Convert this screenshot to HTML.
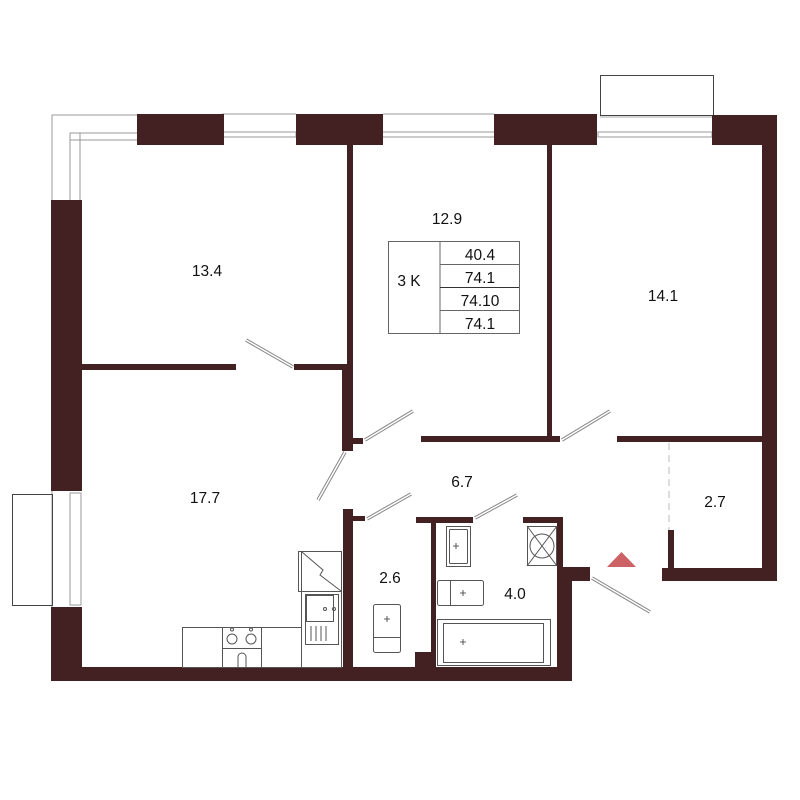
<!DOCTYPE html>
<html><head><meta charset="utf-8"><style>
html,body{margin:0;padding:0;background:#fff;}
svg{display:block;}
text{font-family:"Liberation Sans",sans-serif;font-size:15.5px;fill:#111;}
</style></head><body>
<svg width="800" height="800" viewBox="0 0 800 800" xmlns="http://www.w3.org/2000/svg">
<g fill="none" stroke="#999" stroke-width="1">
  <polyline points="52,200 52,115 137,115"/>
  <rect x="70" y="133" width="10" height="68"/>
  <rect x="70" y="133" width="68" height="7"/>
  <rect x="222" y="132" width="74" height="5"/>
  <line x1="222" y1="114" x2="296" y2="114"/>
  <rect x="381" y="132" width="114" height="5"/>
  <line x1="383" y1="114" x2="494" y2="114"/>
  <rect x="598" y="132" width="114" height="5"/>
  <rect x="70" y="493" width="11" height="112"/>
  <line x1="52" y1="491" x2="52" y2="607"/>
  <line x1="669" y1="443" x2="669" y2="530" stroke-dasharray="7,5" stroke="#bbb"/>
</g>
<rect x="600.5" y="75.5" width="113" height="40" fill="none" stroke="#444" stroke-width="1"/>
<line x1="600" y1="117" x2="713" y2="117" stroke="#aaa"/>
<rect x="12.5" y="494.5" width="40" height="111" fill="none" stroke="#444" stroke-width="1"/>

<g fill="#432022">
  <rect x="137" y="114" width="87" height="31"/>
  <rect x="296" y="114" width="87" height="31"/>
  <rect x="494" y="114" width="103" height="31"/>
  <rect x="712" y="115" width="65" height="30"/>
  <rect x="762" y="115" width="15" height="466"/>
  <rect x="51" y="200" width="31" height="291"/>
  <rect x="51" y="607" width="31" height="74"/>
  <rect x="51" y="667" width="521" height="14"/>
  <rect x="415" y="652" width="17" height="16"/>
  <rect x="81" y="364" width="155" height="6"/>
  <rect x="294" y="364" width="53" height="6"/>
  <rect x="347" y="145" width="6" height="220"/>
  <rect x="342" y="364" width="11" height="87"/>
  <rect x="353" y="438" width="10" height="6"/>
  <rect x="343" y="509" width="10" height="160"/>
  <rect x="353" y="516" width="12" height="5"/>
  <rect x="547" y="145" width="5" height="296"/>
  <rect x="421" y="436" width="139" height="6"/>
  <rect x="617" y="436" width="146" height="6"/>
  <rect x="416" y="517" width="57" height="6"/>
  <rect x="523" y="517" width="40" height="6"/>
  <rect x="431" y="517" width="5" height="152"/>
  <rect x="557" y="517" width="6" height="52"/>
  <rect x="557" y="567" width="33" height="14"/>
  <rect x="557" y="567" width="15" height="114"/>
  <rect x="668" y="530" width="6" height="40"/>
  <rect x="662" y="568" width="115" height="13"/>
</g>

<g stroke="#888" stroke-width="3.5" stroke-linecap="butt">
  <line x1="246" y1="340" x2="293" y2="367"/>
  <line x1="365" y1="440" x2="413" y2="411"/>
  <line x1="345" y1="452" x2="318" y2="500"/>
  <line x1="367" y1="519" x2="411" y2="494"/>
  <line x1="562" y1="440" x2="610" y2="411"/>
  <line x1="475" y1="518" x2="517" y2="495"/>
  <line x1="592" y1="578" x2="650" y2="612"/>
</g>
<g stroke="#fff" stroke-width="1.5">
  <line x1="246" y1="340" x2="293" y2="367"/>
  <line x1="365" y1="440" x2="413" y2="411"/>
  <line x1="345" y1="452" x2="318" y2="500"/>
  <line x1="367" y1="519" x2="411" y2="494"/>
  <line x1="562" y1="440" x2="610" y2="411"/>
  <line x1="475" y1="518" x2="517" y2="495"/>
  <line x1="592" y1="578" x2="650" y2="612"/>
</g>

<g fill="none" stroke="#666" stroke-width="1">
  <rect x="388.5" y="241.5" width="131" height="92"/>
  <line x1="440" y1="241" x2="440" y2="333"/>
  <line x1="440" y1="264.5" x2="519" y2="264.5"/>
  <line x1="440" y1="287.5" x2="519" y2="287.5" stroke="#333"/>
  <line x1="440" y1="310.5" x2="519" y2="310.5"/>
</g>
<text x="480" y="260" text-anchor="middle">40.4</text>
<text x="480" y="283" text-anchor="middle">74.1</text>
<text x="480" y="306" text-anchor="middle">74.10</text>
<text x="480" y="329" text-anchor="middle">74.1</text>
<text x="409" y="286" text-anchor="middle">3 K</text>

<text x="207" y="276" text-anchor="middle">13.4</text>
<text x="447" y="224" text-anchor="middle">12.9</text>
<text x="663" y="301" text-anchor="middle">14.1</text>
<text x="205" y="503" text-anchor="middle">17.7</text>
<text x="462" y="487" text-anchor="middle">6.7</text>
<text x="715" y="507" text-anchor="middle">2.7</text>
<text x="390" y="583" text-anchor="middle">2.6</text>
<text x="515" y="599" text-anchor="middle">4.0</text>

<polygon points="607,567 636,567 621.5,552" fill="#cd6266"/>

<g fill="none" stroke="#555" stroke-width="1">
  <rect x="182.5" y="627.5" width="119" height="40"/>
  <rect x="222.5" y="627.5" width="39" height="40"/>
  <circle cx="232" cy="639" r="5"/><circle cx="251" cy="639" r="5"/>
  <circle cx="232" cy="629.5" r="1.5"/><circle cx="251" cy="629.5" r="1.5"/>
  <line x1="222" y1="648.5" x2="262" y2="648.5"/>
  <path d="M238,667 V657 a4,4 0 0 1 8,0 V667"/>
  <rect x="301.5" y="591.5" width="40" height="76"/>
  <rect x="298.5" y="551.5" width="43" height="40"/>
  <line x1="301.5" y1="551" x2="301.5" y2="591"/>
  <polyline points="302,552 323,570 320,575 341,591"/>
  <rect x="305.5" y="594.5" width="33" height="50"/>
  <rect x="306.5" y="595.5" width="27" height="26"/>
  <circle cx="325" cy="609" r="1.5"/><circle cx="334" cy="609" r="1.5"/>
  <line x1="311" y1="626" x2="311" y2="641"/><line x1="316" y1="626" x2="316" y2="641"/>
  <line x1="321" y1="626" x2="321" y2="641"/><line x1="326" y1="626" x2="326" y2="641"/>
  <rect x="373.5" y="604.5" width="27" height="48" rx="2"/>
  <line x1="373" y1="637.5" x2="400" y2="637.5"/>
  <rect x="446.5" y="526.5" width="24" height="40"/>
  <rect x="449.5" y="529.5" width="18" height="34" rx="1"/>
  <rect x="527.5" y="526.5" width="29" height="39"/>
  <circle cx="542" cy="546" r="12"/>
  <line x1="527" y1="526" x2="557" y2="566"/><line x1="557" y1="526" x2="527" y2="566"/>
  <rect x="437.5" y="580.5" width="46" height="25" rx="2"/>
  <line x1="450.5" y1="580" x2="450.5" y2="606"/>
  <rect x="437.5" y="619.5" width="113" height="46"/>
  <rect x="443.5" y="623.5" width="100" height="39"/>
</g>
<g stroke="#333" stroke-width="0.8">
  <path d="M384,619 h6 M387,616 v6"/>
  <path d="M453,546 h6 M456,543 v6"/>
  <path d="M460,593 h6 M463,590 v6"/>
  <path d="M460,642 h6 M463,639 v6"/>
</g>
</svg>
</body></html>
